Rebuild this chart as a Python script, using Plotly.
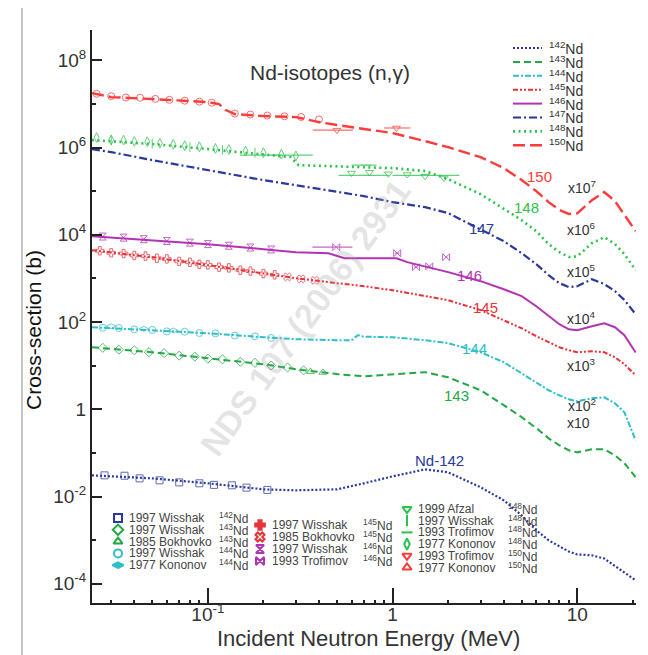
import plotly.graph_objects as go

FONT = "Liberation Sans, Arial, Helvetica, sans-serif"

# ---------------- evaluated curves (energy in MeV, cross-section in b, unscaled) ----------------
E142 = [0.0236, 0.05, 0.1, 0.2, 0.3, 0.5, 0.7, 1.0, 1.5, 2.0, 3.0, 4.0, 5.0, 6.0, 7.0, 8.0, 9.0, 10, 12, 14, 16, 18, 20.7]
S142 = [0.0306, 0.0261, 0.0201, 0.0146, 0.0139, 0.0146, 0.0201, 0.0290, 0.042, 0.0359, 0.0163, 0.0082, 0.0037,
        0.00168, 0.00099, 0.00072, 0.00055, 0.00047, 0.00045, 0.00038, 0.00026, 0.00018, 0.00012]

E143 = [0.0236, 0.05, 0.1, 0.2, 0.3, 0.5, 0.7, 1.0, 1.5, 2.0, 3.0, 4.0, 5.0, 6.0, 7.0, 8.0, 9.0, 10, 12, 14, 16, 18, 20.7]
S143 = [0.264, 0.203, 0.148, 0.108, 0.083, 0.064, 0.057, 0.064, 0.071, 0.054, 0.0273, 0.0124, 0.0066, 0.0037,
        0.00216, 0.00149, 0.00115, 0.00103, 0.00121, 0.00121, 0.00088, 0.00058, 0.00028]

E144 = [0.0236, 0.05, 0.1, 0.2, 0.3, 0.5, 0.6, 0.65, 0.7, 1.0, 1.5, 2.0, 3.0, 4.0, 5.0, 6.0, 7.0, 8.0, 9.0, 10,
        12, 14, 16, 18, 20.7]
S144 = [0.0760, 0.0649, 0.0553, 0.0448, 0.0404, 0.0383, 0.0383, 0.0500, 0.0460, 0.0448, 0.0383, 0.0327, 0.0203,
        0.0120, 0.0067, 0.00416, 0.00273, 0.00209, 0.00169, 0.00152, 0.00179, 0.00188, 0.00137, 0.00085, 0.000195]

E145 = [0.0236, 0.05, 0.1, 0.2, 0.3, 0.5, 0.7, 1.0, 1.5, 2.0, 3.0, 4.0, 5.0, 6.0, 7.0, 8.0, 9.0, 10, 12, 14, 16, 18, 20.7]
S145 = [0.444, 0.306, 0.201, 0.1315, 0.101, 0.0776, 0.0662, 0.0536, 0.0391, 0.0316, 0.0187, 0.0110, 0.0072,
        0.00472, 0.00344, 0.00264, 0.00225, 0.00203, 0.00214, 0.00203, 0.00156, 0.00108, 0.00060]

E146 = [0.0236, 0.05, 0.1, 0.2, 0.3, 0.45, 0.55, 1.05, 1.2, 2.0, 3.0, 4.0, 5.0, 6.0, 7.0, 8.0, 9.0, 10, 12, 14, 16, 18, 20.7]
S146 = [0.0929, 0.0752, 0.0608, 0.0468, 0.0399, 0.0378, 0.0290, 0.0290, 0.0236, 0.0139, 0.00863, 0.00565, 0.00391,
        0.00230, 0.00136, 0.00089, 0.00068, 0.00065, 0.00080, 0.00094, 0.00076, 0.00050, 0.00020]

E147 = [0.0236, 0.03, 0.05, 0.1, 0.2, 0.3, 0.5, 0.7, 1.0, 1.5, 2.0, 3.0, 4.0, 5.0, 6.0, 7.0, 8.0, 9.0, 10, 12, 14, 16, 18, 20.7]
S147 = [0.918, 0.784, 0.514, 0.303, 0.179, 0.137, 0.0948, 0.0767, 0.0560, 0.0430, 0.0313, 0.0134, 0.00713, 0.00378,
        0.00212, 0.00118, 0.00078, 0.00063, 0.00066, 0.00096, 0.00074, 0.00051, 0.00032, 0.000151]

E148 = [0.0236, 0.05, 0.1, 0.2, 0.28, 0.31, 0.5, 1.0, 1.5, 2.0, 3.0, 4.0, 5.0, 6.0, 7.0, 8.0, 9.0, 10, 12, 14, 16, 18, 20.7]
S148 = [0.148, 0.120, 0.0918, 0.0706, 0.0603, 0.0394, 0.0374, 0.0337, 0.0288, 0.0188, 0.00853, 0.00386, 0.00216,
        0.00121, 0.00061, 0.00040, 0.00031, 0.00032, 0.00064, 0.00088, 0.00061, 0.00036, 0.000154]

E150 = [0.0236, 0.03, 0.05, 0.1, 0.115, 0.125, 0.14, 0.2, 0.3, 0.4, 0.5, 1.0, 1.5, 2.0, 3.0, 4.0, 5.0, 6.0, 7.0, 8.0,
        9.0, 10, 12, 14, 16, 18, 20.7]
S150 = [0.177, 0.143, 0.129, 0.110, 0.0989, 0.0721, 0.0583, 0.0525, 0.0498, 0.0383, 0.0327, 0.0214, 0.0140, 0.0102,
        0.0060, 0.00337, 0.00179, 0.00100, 0.00056, 0.00037, 0.00030, 0.00031, 0.00062, 0.00095, 0.00059, 0.00028,
        0.000121]

# display multipliers
F142, F143, F144, F145, F146, F147, F148, F150 = 1, 1e2, 1e3, 1e4, 1e5, 1e6, 1e7, 1e8

# ---------------- experimental data (energy MeV, cross-section b) ----------------
WIS142_E = [0.0276, 0.0354, 0.0427, 0.0548, 0.070, 0.090, 0.108, 0.135, 0.162, 0.21]
WIS142_S = [0.0306, 0.0300, 0.0261, 0.0235, 0.0211, 0.0201, 0.0185, 0.0181, 0.0160, 0.0142]

WIS143_E = [0.027, 0.033, 0.04, 0.048, 0.058, 0.07, 0.085, 0.1, 0.12, 0.15, 0.18, 0.22, 0.27, 0.33]
WIS143_S = [0.256, 0.232, 0.225, 0.203, 0.193, 0.170, 0.161, 0.145, 0.140, 0.123, 0.116, 0.101, 0.091, 0.078]
BOK143_E = [0.36, 0.42]
BOK143_S = [0.073, 0.070]

WIS144_E = [0.027, 0.033, 0.04, 0.05, 0.06, 0.075, 0.09, 0.11, 0.14, 0.18, 0.22]
WIS144_S = [0.074, 0.073, 0.068, 0.066, 0.061, 0.060, 0.056, 0.055, 0.049, 0.047, 0.043]
KON144_E = [0.03, 0.045, 0.065]
KON144_S = [0.080, 0.070, 0.064]

WIS145_E = [0.026, 0.03, 0.035, 0.04, 0.046, 0.053, 0.06, 0.07, 0.08, 0.09, 0.1, 0.115, 0.13, 0.15, 0.17, 0.2, 0.23]
WIS145_S = [0.430, 0.385, 0.372, 0.336, 0.325, 0.290, 0.279, 0.245, 0.234, 0.210, 0.204, 0.181, 0.174, 0.154,
            0.147, 0.129, 0.121]
BOK145_E = [0.27, 0.32, 0.38]
BOK145_S = [0.108, 0.098, 0.090]

WIS146_E = [0.027, 0.035, 0.045, 0.06, 0.08, 0.1, 0.13, 0.17, 0.22]
WIS146_S = [0.091, 0.086, 0.079, 0.072, 0.066, 0.061, 0.056, 0.051, 0.046]
TRO146_E = [0.496, 1.06, 1.34, 1.58, 1.95]
TRO146_S = [0.052, 0.0378, 0.0181, 0.0189, 0.0306]
TRO146_EM = [0.128, 0.03, 0.03, 0.03, 0.03]
TRO146_EP = [0.110, 0.03, 0.03, 0.03, 0.03]

KON148_E = [0.025, 0.03, 0.035, 0.04, 0.047, 0.055, 0.065, 0.075, 0.09, 0.11, 0.13, 0.16, 0.2, 0.25, 0.3]
KON148_S = [0.170, 0.150, 0.148, 0.138, 0.135, 0.125, 0.118, 0.110, 0.104, 0.095, 0.090, 0.083, 0.076, 0.070, 0.064]
WIS148_E = [0.03, 0.05, 0.08, 0.12, 0.18]
WIS148_S = [0.145, 0.122, 0.102, 0.088, 0.076]
AFZ148_E = [0.6, 0.75, 0.95, 1.2, 1.5, 1.9]
AFZ148_S = [0.026, 0.027, 0.025, 0.024, 0.022, 0.020]
TRO148_E = [0.235, 0.70, 0.72, 1.5]
TRO148_S = [0.067, 0.023, 0.0395, 0.023]
TRO148_EM = [0.086, 0.19, 0.12, 0.5]
TRO148_EP = [0.135, 0.26, 0.10, 0.8]

KON150_E = [0.025, 0.03, 0.036, 0.043, 0.052, 0.062, 0.075, 0.09, 0.105, 0.14, 0.17, 0.21, 0.26, 0.32, 0.4]
KON150_S = [0.170, 0.150, 0.140, 0.138, 0.130, 0.124, 0.118, 0.112, 0.106, 0.060, 0.057, 0.054, 0.052, 0.050, 0.044]
TRO150_E = [0.5, 1.05]
TRO150_S = [0.025, 0.028]
TRO150_EM = [0.13, 0.15]
TRO150_EP = [0.11, 0.20]

# ---------------- colours ----------------
BLUE = "#2a3a9c"
GREEN = "#22a844"
CYAN = "#2fbfc9"
RED = "#e8323a"
MAGENTA = "#b233b4"
LGREEN = "#2cc24c"
RED2 = "#ff3a3a"

curves = [
    ("142", E142, S142, F142, BLUE, "2px,2px", 2.2),
    ("143", E143, S143, F143, GREEN, "7px,4px", 2.0),
    ("144", E144, S144, F144, CYAN, "6px,2px,2px,2px", 2.0),
    ("145", E145, S145, F145, RED, "5px,2px,2px,2px,2px,2px", 2.0),
    ("146", E146, S146, F146, MAGENTA, "solid", 2.0),
    ("147", E147, S147, F147, BLUE, "8px,3px,2px,3px", 2.2),
    ("148", E148, S148, F148, LGREEN, "2px,3.5px", 2.6),
    ("150", E150, S150, F150, RED2, "12px,5px", 2.4),
]

fig = go.Figure()

for name, e, s, f, col, dash, w in curves:
    fig.add_trace(go.Scatter(x=e, y=[v * f for v in s], mode="lines", line=dict(color=col, dash=dash, width=w),
                             showlegend=False, hoverinfo="skip"))

exps = [
    (WIS142_E, WIS142_S, F142, "square-open", BLUE, None, None),
    (WIS143_E, WIS143_S, F143, "diamond-open", GREEN, None, None),
    (BOK143_E, BOK143_S, F143, "triangle-up-open", GREEN, None, None),
    (WIS144_E, WIS144_S, F144, "circle-open", CYAN, None, None),
    (KON144_E, KON144_S, F144, "diamond-wide-open", CYAN, None, None),
    (WIS145_E, WIS145_S, F145, "cross-open", RED, None, None),
    (BOK145_E, BOK145_S, F145, "x-open", RED, None, None),
    (WIS146_E, WIS146_S, F146, "hourglass-open", MAGENTA, None, None),
    (TRO146_E, TRO146_S, F146, "bowtie-open", MAGENTA, TRO146_EM, TRO146_EP),
    (KON148_E, KON148_S, F148, "diamond-tall-open", LGREEN, None, None),
    (WIS148_E, WIS148_S, F148, "line-ns-open", LGREEN, None, None),
    (AFZ148_E, AFZ148_S, F148, "triangle-down-open", LGREEN, None, None),
    (TRO148_E, TRO148_S, F148, "line-ew-open", LGREEN, TRO148_EM, TRO148_EP),
    (KON150_E, KON150_S, F150, "circle-open", RED2, None, None),
    (TRO150_E, TRO150_S, F150, "triangle-down-open", RED2, TRO150_EM, TRO150_EP),
]
for e, s, f, sym, col, em, ep in exps:
    kw = {}
    if em is not None:
        kw["error_x"] = dict(type="data", array=ep, arrayminus=em, color=col, thickness=1.2, width=0)
    fig.add_trace(go.Scatter(x=e, y=[v * f for v in s], mode="markers",
                             marker=dict(symbol=sym, size=7, color=col, line=dict(color=col, width=1)),
                             opacity=0.75, showlegend=False, hoverinfo="skip", **kw))

# ---------------- helpers for decorative layout placement ----------------
# the page body adds an 8 px offset, so the figure is drawn 8 px smaller
OFF = 8
W, H = 640, 647
L, R, T, B = 84, 12, 22, 52
PW, PH = W - L - R, H - T - B


def px(x):
    # screen x (reference picture) -> paper x
    return (x - OFF - L) / PW


def py(y):
    # screen y (reference picture) -> paper y
    return (H - B - (y - OFF)) / PH


ann = []


def pann(x, y, text, size, color, xanchor="center", angle=0):
    ann.append(dict(x=px(x), y=py(y), xref="paper", yref="paper", xanchor=xanchor, yanchor="middle",
                    text=text, showarrow=False, textangle=angle, borderpad=0,
                    font=dict(family=FONT, size=size, color=color)))


# curve labels (data coordinates: log10 values on log axes)
curve_labels = [
    ("150", 0.793, 5.344, RED2), ("148", 0.723, 4.633, LGREEN), ("147", 0.479, 4.151, BLUE),
    ("146", 0.414, 3.073, MAGENTA), ("145", 0.501, 2.339, RED), ("144", 0.441, 1.399, CYAN),
    ("143", 0.344, 0.321, GREEN), ("Nd-142", 0.252, -1.170, BLUE),
]
for t, lx, ly, col in curve_labels:
    ann.append(dict(x=lx, y=ly, xref="x", yref="y", text=t, showarrow=False, xanchor="center", yanchor="middle",
                    font=dict(family=FONT, size=15, color=col)))

scale_labels = [
    ("x10<sup>7</sup>", 1.025, 5.092), ("x10<sup>6</sup>", 1.025, 4.128), ("x10<sup>5</sup>", 1.025, 3.165),
    ("x10<sup>4</sup>", 1.025, 2.087), ("x10<sup>3</sup>", 1.025, 1.009), ("x10<sup>2</sup>", 1.025, 0.092),
    ("x10", 1.009, -0.321),
]
for t, lx, ly in scale_labels:
    ann.append(dict(x=lx, y=ly, xref="x", yref="y", text=t, showarrow=False, xanchor="center", yanchor="middle",
                    font=dict(family=FONT, size=14, color="#333333")))

# title and axis titles
pann(330, 73, "Nd-isotopes (n,\u03b3)", 21, "#333333")
pann(33, 330, "Cross-section (b)", 21, "#111111", angle=-90)
pann(368, 638, "Incident Neutron Energy (MeV)", 22, "#333333")

# watermark
pann(305, 318, "<b>NDS 107 (2006) 2931</b>", 34, "rgba(160,160,160,0.28)", angle=-54)

# top-right line legend
shapes = []
for i, (name, e, s, f, col, dash, w) in enumerate(curves):
    yy = 48 + i * 13.9
    shapes.append(dict(type="line", xref="paper", yref="paper", x0=px(513), x1=px(542), y0=py(yy), y1=py(yy),
                       line=dict(color=col, dash=dash, width=w)))
    pann(548, yy, "<sup>%s</sup>Nd" % name, 14, "#333333", xanchor="left")

# bottom marker legend
legend_items = [
    # col, row, label, isotope, symbol, colour
    (0, 0, "1997 Wisshak", "142", "square-open", BLUE),
    (0, 1, "1997 Wisshak", "143", "diamond-open", GREEN),
    (0, 2, "1985 Bokhovko", "143", "triangle-up-open", GREEN),
    (0, 3, "1997 Wisshak", "144", "circle-open", CYAN),
    (0, 4, "1977 Kononov", "144", "diamond-wide", CYAN),
    (1, 0, "1997 Wisshak", "145", "cross", RED),
    (1, 1, "1985 Bokhovko", "145", "x-open", RED),
    (1, 2, "1997 Wisshak", "146", "hourglass-open", MAGENTA),
    (1, 3, "1993 Trofimov", "146", "bowtie-open", MAGENTA),
    (2, 0, "1999 Afzal", "148", "triangle-down-open", LGREEN),
    (2, 1, "1997 Wisshak", "148", "line-ns-open", LGREEN),
    (2, 2, "1993 Trofimov", "148", "line-ew-open", LGREEN),
    (2, 3, "1977 Kononov", "148", "diamond-tall-open", LGREEN),
    (2, 4, "1993 Trofimov", "150", "triangle-down-open", RED2),
    (2, 5, "1977 Kononov", "150", "triangle-up-open", RED2),
]
col_mark = [118, 260, 407]
col_text = [128, 271, 417]
col_iso = [218, 362, 507]
col_y0 = [518, 525, 509]
col_dy = [11.8, 12.0, 11.7]

for c, r, lab, iso, sym, colr in legend_items:
    yy = col_y0[c] + r * col_dy[c]
    fig.add_trace(go.Scatter(x=[px(col_mark[c])], y=[py(yy)], xaxis="x2", yaxis="y2", mode="markers",
                             marker=dict(symbol=sym, size=8, color=colr, line=dict(color=colr, width=2)),
                             showlegend=False, hoverinfo="skip", cliponaxis=False))
    pann(col_text[c], yy, lab, 12, "#444444", xanchor="left")
    pann(col_iso[c], yy, "<sup>%s</sup>Nd" % iso, 12, "#444444", xanchor="left")

# thin grey frame lines of the original figure panel
shapes.append(dict(type="line", xref="paper", yref="paper", x0=px(22), x1=px(22), y0=py(OFF), y1=py(655),
                   line=dict(color="#c4c4c4", width=2)))
shapes.append(dict(type="line", xref="paper", yref="paper", x0=px(644), x1=px(644), y0=py(OFF), y1=py(655),
                   line=dict(color="#c4c4c4", width=2)))

XT = [0.1, 1, 10]
XT_TEXT = ["10<sup>-1</sup>", "1", "10"]
XMINOR = [0.03, 0.04, 0.05, 0.06, 0.07, 0.08, 0.09, 0.2, 0.3, 0.4, 0.5, 0.6, 0.7, 0.8, 0.9,
          2, 3, 4, 5, 6, 7, 8, 9, 20]
YT = [1e-4, 1e-2, 1, 1e2, 1e4, 1e6, 1e8]
YT_TEXT = ["10<sup>-4</sup>", "10<sup>-2</sup>", "1", "10<sup>2</sup>", "10<sup>4</sup>", "10<sup>6</sup>",
           "10<sup>8</sup>"]
YMINOR = [1e-3, 1e-1, 1e1, 1e3, 1e5, 1e7]

fig.update_layout(
    width=W, height=H,
    margin=dict(l=L, r=R, t=T, b=B),
    paper_bgcolor="white", plot_bgcolor="white",
    showlegend=False,
    hovermode=False,
    font=dict(family=FONT, color="#333333"),
    xaxis=dict(type="log", range=[-1.627, 1.318], tickvals=XT, ticktext=XT_TEXT, ticks="inside", ticklen=15,
               tickwidth=1.6, tickcolor="#222222", showline=True, linecolor="#222222", linewidth=2,
               showgrid=False, zeroline=False, tickfont=dict(family=FONT, size=19, color="#333333"),
               ticklabelstandoff=-7,
               minor=dict(tickvals=XMINOR, ticks="inside", ticklen=3, tickwidth=2, tickcolor="#222222",
                          showgrid=False)),
    yaxis=dict(type="log", range=[-4.44, 8.693], tickvals=YT, ticktext=YT_TEXT, ticks="inside", ticklen=10,
               tickwidth=2, tickcolor="#222222", showline=True, linecolor="#222222", linewidth=2,
               showgrid=False, zeroline=False, tickfont=dict(family=FONT, size=19, color="#333333"),
               minor=dict(tickvals=YMINOR, ticks="inside", ticklen=4, tickwidth=2, tickcolor="#222222",
                          showgrid=False)),
    xaxis2=dict(overlaying="x", range=[0, 1], visible=False, fixedrange=True),
    yaxis2=dict(overlaying="y", range=[0, 1], visible=False, fixedrange=True),
    annotations=ann,
    shapes=shapes,
)

fig.write_html("out.html")
